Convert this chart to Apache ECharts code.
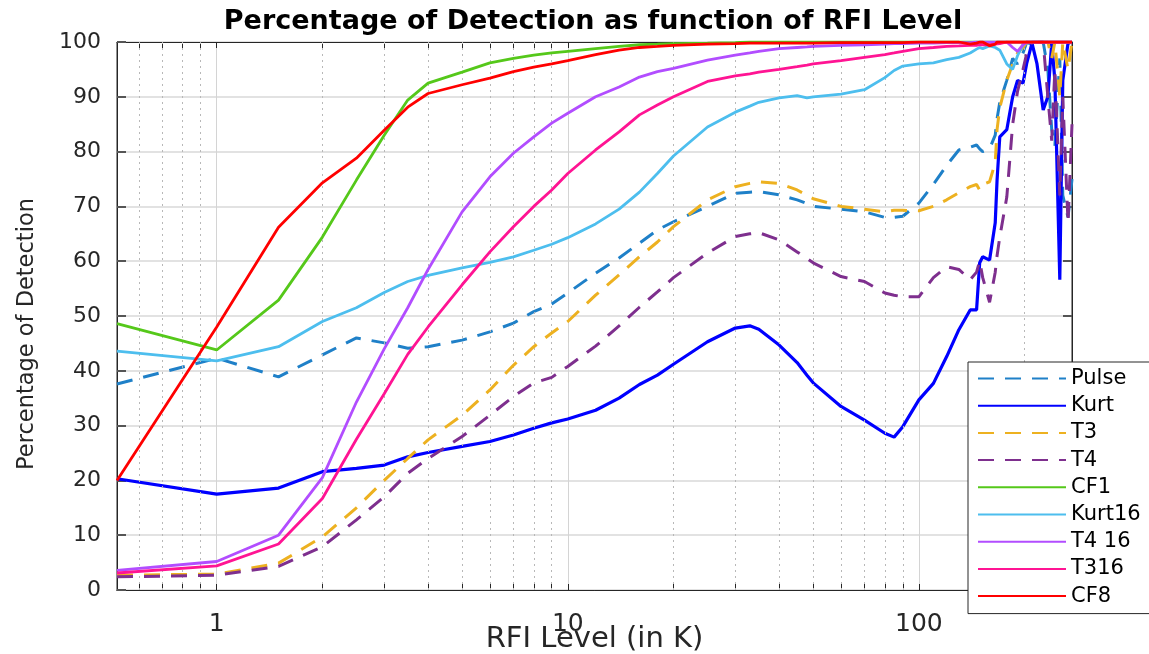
<!DOCTYPE html>
<html>
<head>
<meta charset="utf-8">
<script src="https://cdn.jsdelivr.net/npm/echarts@6/dist/echarts.min.js"></script>
<style>
html,body{margin:0;padding:0;background:#fff;}
#chart{width:1149px;height:654px;}
</style>
</head>
<body>
<div id="chart"></div>
<script>
// RFI level (K) sample points
const X = [0.52,1,1.5,2,2.5,3,3.5,4,5,6,7,8,9,10,12,14,16,18,20,25,30,33,35,40,45,48,50,60,70,80,85,90,100,110,120,130,140,146,149,152,159,165,167,170,178,185,191,198,203,210,217,226,233,239,244,252,257,266,273];

const pulse = [37.6,42.3,38.9,42.9,46.0,45.1,44.1,44.4,45.6,47.1,48.7,50.8,52.2,54.2,57.8,60.6,63.3,65.7,67.2,70.0,72.4,72.6,72.7,72.1,71.2,70.5,70.0,69.5,69.0,68.0,68.0,68.2,70.6,74.0,77.5,80.3,80.8,81.2,80.5,80.0,80.5,83,86,89,93,97,96,98,100,99.5,100,100,95,84,81,97,72,68,75];
const kurt = [20.3,17.5,18.6,21.6,22.2,22.8,24.3,25.1,26.2,27.1,28.3,29.5,30.5,31.2,32.8,35.0,37.5,39.2,41.2,45.3,47.8,48.2,47.6,44.7,41.5,39.2,37.8,33.5,31.0,28.6,27.9,29.8,34.7,37.7,42.6,47.5,51.1,51.1,59.7,60.8,60.2,67,74.8,82.7,84,90,93,92.5,96.2,99.8,96,87.6,90,99.8,93,56.6,93,99.8,100];
const t3 = [2.7,2.9,4.9,9.7,15.0,20.0,24.0,27.4,31.9,36.5,41.0,44.4,46.9,49.0,53.8,57.5,60.8,63.5,66.3,71.2,73.6,74.2,74.5,74.2,73.0,72.0,71.4,70.0,69.5,69.0,69.3,69.3,69.2,70.0,71.2,72.5,73.6,74.0,73.0,74.0,74.5,78,84,88,93,96,98,99,100,100,100,100,100,97,100,90,100,95,100];
const t4 = [2.4,2.7,4.3,7.9,12.8,17.0,21.3,24.0,28.0,31.9,35.3,37.8,38.8,40.8,44.5,48.2,51.6,54.4,57.0,61.5,64.5,65.0,65.2,63.9,61.7,60.5,59.7,57.2,56.3,54.2,53.8,53.5,53.5,57.0,59.0,58.5,56.6,58.0,60.0,57.0,52.5,58.0,61.0,64.4,71.7,85,91,95,98,100,100,100,90,82,95,72,90,67,85];
const cf1 = [48.6,43.8,52.9,64.4,74.8,83.0,89.4,92.5,94.5,96.2,97.0,97.6,98.0,98.3,98.8,99.2,99.5,99.6,99.7,99.8,99.9,100,100,100,100,100,100,100,100,100,100,100,100,100,100,100,100,100,100,100,100,100,100,100,100,100,100,100,100,100,100,100,100,100,100,100,100,100,100];
const kurt16 = [43.6,41.8,44.4,49.0,51.5,54.3,56.3,57.4,58.8,59.8,60.8,62.0,63.1,64.3,66.8,69.5,72.6,76.0,79.2,84.5,87.2,88.3,89.0,89.8,90.2,89.8,90.0,90.5,91.3,93.5,94.8,95.6,96.0,96.2,96.8,97.2,98.0,98.7,99.0,98.8,99.3,99.0,98.8,98.5,96,95,97.5,99.5,100,100,100,100,100,100,100,100,100,100,100];
const t4_16 = [3.6,5.2,10.0,20.5,34.3,44.0,51.5,58.5,69.0,75.4,79.7,82.7,85.2,87.0,90.0,91.8,93.6,94.6,95.2,96.7,97.6,98.0,98.3,98.8,99.0,99.1,99.2,99.4,99.5,99.6,99.7,99.7,99.8,99.8,99.9,99.9,99.9,100,100,100,100,100,100,100,100,99,98.3,99.5,100,100,100,100,100,100,100,100,100,100,100];
const t316 = [3.1,4.4,8.4,16.7,27.5,35.8,43.0,48.0,55.7,61.7,66.3,70.0,73.0,76.0,80.3,83.6,86.7,88.5,90.0,92.8,93.8,94.2,94.5,95.0,95.5,95.8,96.0,96.6,97.2,97.7,98.0,98.3,98.8,99.0,99.2,99.3,99.4,99.4,99.5,99.5,99.5,99.6,99.6,99.7,100,100,100,100,100,100,100,100,100,100,100,100,100,100,100];
const cf8 = [20,48,66.2,74.3,78.8,83.9,88.1,90.6,92.2,93.4,94.6,95.4,96.0,96.6,97.7,98.5,99.0,99.2,99.4,99.6,99.7,99.8,99.8,99.8,99.8,99.8,99.8,99.9,99.9,99.9,99.9,99.9,100,100,100,100,99.6,99.8,100,100,99.3,99.6,100,100,100,100,100,100,100,100,100,100,100,100,100,100,100,100,100];

const seriesNames = ['Pulse','Kurt','T3','T4','CF1','Kurt16','T4 16','T316','CF8'];
const seriesValues = [pulse,kurt,t3,t4,cf1,kurt16,t4_16,t316,cf8];
const seriesColors = ['#1f80c8','#0000ff','#edb120','#7e2f8e','#55c81a','#4dbeee','#b24dff','#ff1493','#ff0000'];
const seriesDashed = [true,false,true,true,false,false,false,false,false];

const xMajorLabels = [1,10,100];
const xMinorGrid = [0.6,0.7,0.8,0.9,2,3,4,5,6,7,8,9,20,30,40,50,60,70,80,90,200];
const xMin = 0.52, xMax = 273;

const FONT = 'DejaVu Sans';
const TXT = '#262626';

const chart = echarts.init(document.getElementById('chart'), null, {renderer:'canvas'});

const series = seriesNames.map((name,k)=>({
  name: name,
  type: 'line',
  data: X.map((x,i)=>[x, seriesValues[k][i]]),
  showSymbol: false,
  symbol: 'none',
  smooth: false,
  animation: false,
  z: 3 + k,
  lineStyle: {
    color: seriesColors[k],
    width: seriesDashed[k] ? 3 : (name === 'Kurt' ? 3.2 : 2.8),
    type: seriesDashed[k] ? [16, 11] : 'solid'
  },
  itemStyle: {color: seriesColors[k]}
}));

series.unshift({
  name: '_minor',
  type: 'line',
  data: [],
  silent: true,
  animation: false,
  z: 1,
  markLine: {
    silent: true,
    symbol: 'none',
    animation: false,
    label: {show: false},
    lineStyle: {color: '#b8b8b8', width: 1, type: [2, 4]},
    data: xMinorGrid.map(v => ({xAxis: v}))
  }
});

const allTicks = xMinorGrid.concat(xMajorLabels).sort((a,b)=>a-b);

const tickAxis = (pos) => ({
  type: 'log',
  logBase: 10,
  min: xMin,
  max: xMax,
  position: pos,
  axisLine: {show: true, onZero: false, lineStyle: {color: TXT, width: 1}},
  axisTick: {show: true, inside: true, length: 6, customValues: allTicks, lineStyle: {color: TXT}},
  axisLabel: {show: false},
  splitLine: {show: false}
});

const option = {
  backgroundColor: '#ffffff',
  animation: false,
  title: {
    text: 'Percentage of Detection as function of RFI Level',
    left: 588,
    top: 3,
    textAlign: 'center',
    textStyle: {fontFamily: FONT, fontWeight: 'bold', fontSize: 27, color: '#000'}
  },
  grid: {left: 117, right: 77, top: 42, bottom: 64, show: true, borderColor: TXT, borderWidth: 1, backgroundColor: 'transparent', outerBoundsMode: 'none', containLabel: false},
  legend: {
    data: seriesNames,
    orient: 'vertical',
    left: 968,
    top: 362,
    padding: [6, 10, 7, 9],
    itemWidth: 88,
    itemHeight: 14,
    itemGap: 6.2,
    backgroundColor: '#ffffff',
    borderColor: '#262626',
    borderWidth: 1,
    itemStyle: {opacity: 0},
    textStyle: {fontFamily: FONT, fontSize: 21, color: '#000', lineHeight: 20},
    z: 20
  },
  xAxis: [{
    type: 'log',
    logBase: 10,
    min: xMin,
    max: xMax,
    position: 'bottom',
    name: 'RFI Level (in K)',
    nameLocation: 'middle',
    nameGap: 35,
    nameMoveOverlap: false,
    nameTextStyle: {fontFamily: FONT, fontSize: 29, color: TXT},
    axisLine: {show: true, onZero: false, lineStyle: {color: TXT, width: 1}},
    axisTick: {show: false},
    axisLabel: {
      fontFamily: FONT, fontSize: 25, color: TXT, margin: 22,
      showMinLabel: false, showMaxLabel: false,
      formatter: v => (xMajorLabels.some(m => Math.abs(v - m) < 1e-6 * m) ? String(Math.round(v)) : '')
    },
    splitLine: {show: true, lineStyle: {color: '#d4d4d4', width: 1}}
  }, tickAxis('top'), tickAxis('bottom')],
  yAxis: [{
    type: 'value',
    min: 0,
    max: 100,
    interval: 10,
    name: 'Percentage of Detection',
    nameLocation: 'middle',
    nameGap: 78,
    nameRotate: 90,
    nameMoveOverlap: false,
    nameTextStyle: {fontFamily: FONT, fontSize: 22.5, color: TXT, padding: [0, 36, 0, 0]},
    axisLine: {show: true, lineStyle: {color: TXT, width: 1}},
    axisTick: {show: true, inside: true, length: 9, lineStyle: {color: '#555', width: 2}},
    axisLabel: {fontFamily: FONT, fontSize: 22, color: TXT, margin: 16},
    splitLine: {show: true, lineStyle: {color: '#e2e2e2', width: 2}}
  }, {
    type: 'value',
    min: 0,
    max: 100,
    interval: 10,
    position: 'right',
    axisLine: {show: true, lineStyle: {color: TXT, width: 1}},
    axisTick: {show: true, inside: true, length: 9, lineStyle: {color: '#555', width: 2}},
    axisLabel: {show: false},
    splitLine: {show: false}
  }],
  series: series
};

chart.setOption(option);
</script>
</body>
</html>
